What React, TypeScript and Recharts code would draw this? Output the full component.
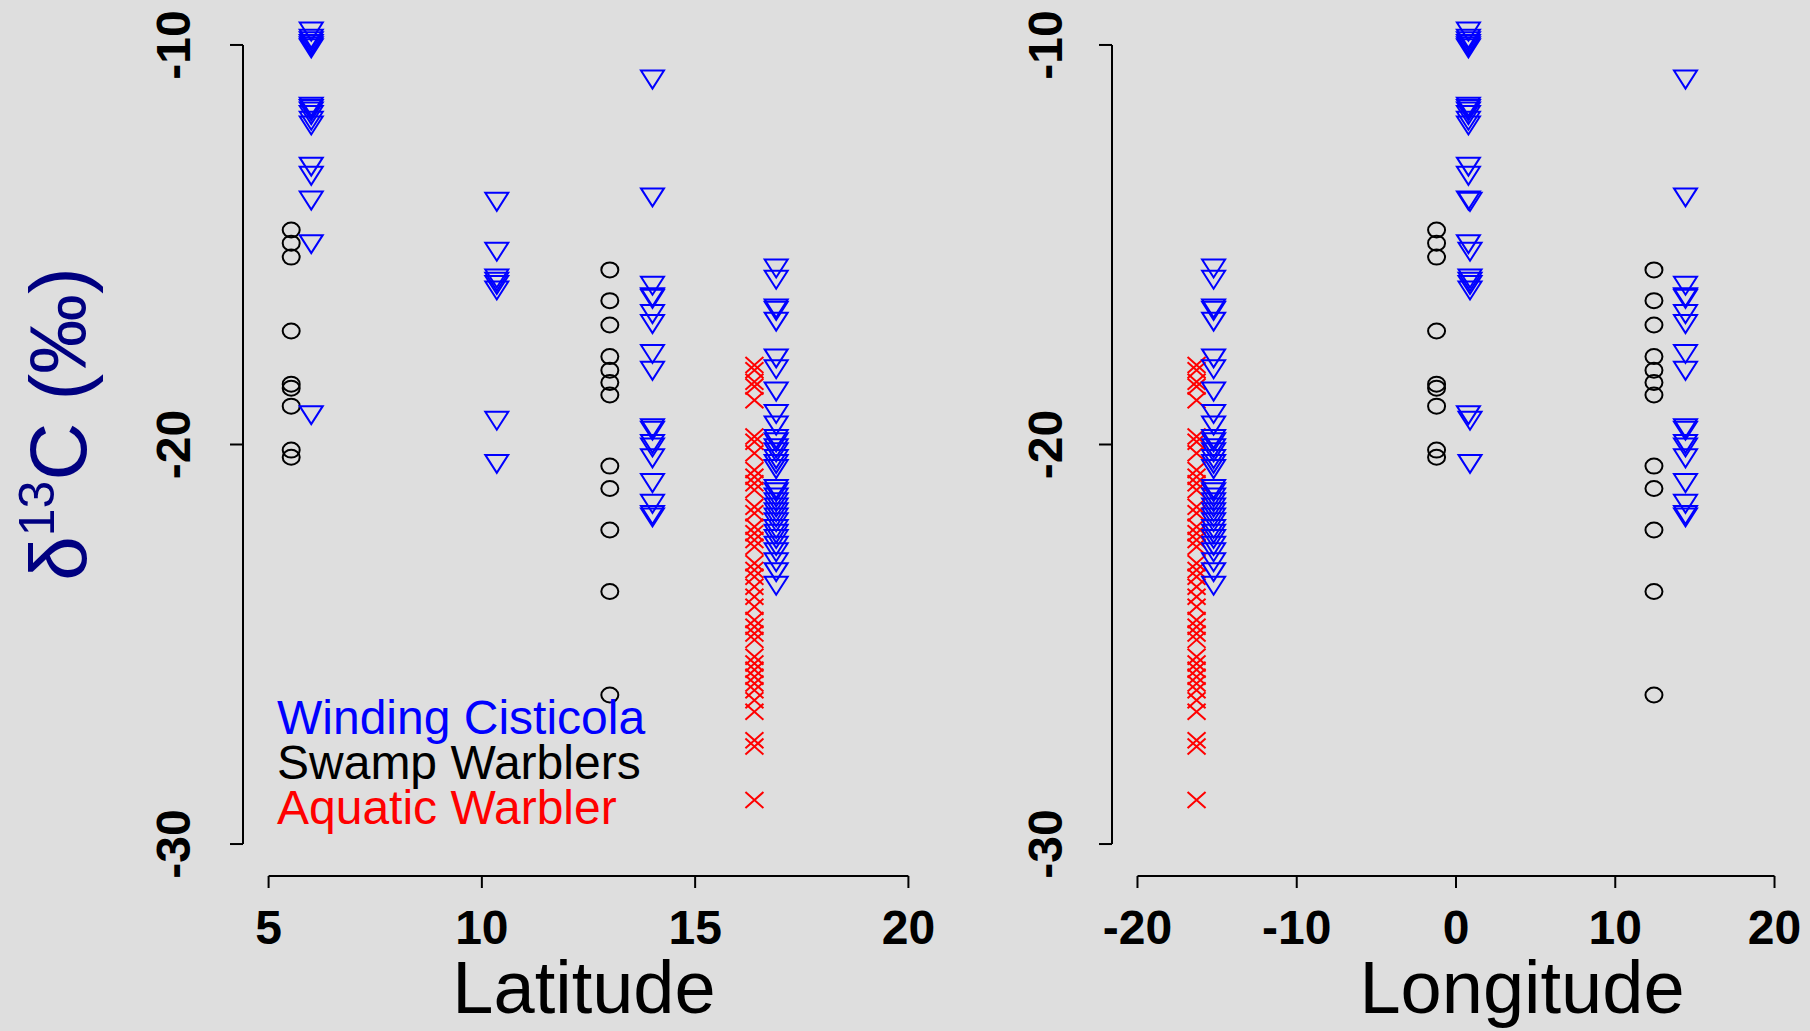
import { ScatterChart, Scatter, XAxis, YAxis, ReferenceLine } from "recharts";

// sites of each species: latitude, longitude, and the d13C values measured there
const cisticolaSiteLat = [6.0, 10.35, 14.0, 16.9];
const cisticolaSiteLon = [0.78, 0.88, 14.41, -15.22];
const cisticolaD13C = [
  [-9.59, -9.77, -9.83, -9.9, -9.96, -10.01, -11.47, -11.53, -11.59, -11.68, -11.82, -11.94, -12.97, -13.2, -13.82, -14.91, -19.19],
  [-13.85, -15.1, -15.77, -15.85, -15.93, -16.07, -19.33, -20.41],
  [-10.79, -13.74, -15.95, -16.24, -16.28, -16.66, -16.91, -17.66, -18.08, -19.52, -19.58, -19.91, -20.0, -20.27, -20.89, -21.41, -21.69, -21.75],
  [-15.52, -15.8, -16.52, -16.58, -16.85, -17.77, -18.04, -18.6, -19.16, -19.45, -19.79, -19.87, -20.02, -20.12, -20.29, -20.41, -20.54, -21.04, -21.12, -21.25, -21.37, -21.5, -21.62, -21.75, -21.87, -22.04, -22.16, -22.29, -22.46, -22.62, -22.87, -23.12, -23.46],
];

const swampSiteLat = [5.53, 13.0];
const swampSiteLon = [-1.22, 12.43];
const swampD13C = [
  [-14.63, -14.96, -15.31, -17.16, -18.49, -18.59, -19.04, -20.14, -20.32],
  [-15.63, -16.4, -17.01, -17.8, -18.14, -18.45, -18.76, -20.54, -21.1, -22.14, -23.68, -26.27],
];

const aquaticSiteLat = [16.39];
const aquaticSiteLon = [-16.29];
const aquaticD13C = [
  [-18.01, -18.14, -18.43, -18.55, -18.89, -19.8, -19.93, -20.22, -20.64, -20.81, -20.97, -21.14, -21.56, -21.72, -22.06, -22.22, -22.39, -22.56, -22.97, -23.14, -23.31, -23.56, -23.81, -24.06, -24.39, -24.56, -24.73, -24.89, -25.31, -25.48, -25.64, -25.81, -25.98, -26.15, -26.4, -26.69, -27.4, -27.56, -28.9],
];

const latTicks = [5, 10, 15, 20];
const lonTicks = [-20, -10, 0, 10, 20];
const d13cTicks = [-30, -20, -10];

const legendLabels = ["Winding Cisticola", "Swamp Warblers", "Aquatic Warbler"];
const legendColors = ["#0000ff", "#000000", "#ff0000"];

const toRows = (lat: number[], lon: number[], vals: number[][]) =>
  vals.flatMap((site, i) => site.map((v) => ({ lat: lat[i], lon: lon[i], d13c: v })));

const cisticola = toRows(cisticolaSiteLat, cisticolaSiteLon, cisticolaD13C);
const swamp = toRows(swampSiteLat, swampSiteLon, swampD13C);
const aquatic = toRows(aquaticSiteLat, aquaticSiteLon, aquaticD13C);

const FONT = "'Liberation Sans', Arial, sans-serif";
const BG = "#dedede";

const latDomain = [4.4, 20.6];
const lonDomain = [-21.6, 21.6];

const DownTriangle = (p: any) => {
  const { cx, cy } = p;
  return (
    <polygon
      points={`${cx - 11.5},${cy - 6} ${cx + 11.5},${cy - 6} ${cx},${cy + 12}`}
      fill="none"
      stroke="#0000ff"
      strokeWidth={2}
    />
  );
};

const OpenCircle = (p: any) => (
  <ellipse cx={p.cx} cy={p.cy} rx={8.5} ry={7.5} fill="none" stroke="#000" strokeWidth={2} />
);

const Cross = (p: any) => {
  const { cx, cy } = p;
  return (
    <path
      d={`M${cx - 9},${cy - 8}L${cx + 9},${cy + 8}M${cx - 9},${cy + 8}L${cx + 9},${cy - 8}`}
      stroke="#ff0000"
      strokeWidth={2}
      fill="none"
    />
  );
};

const XTick = (p: any) => (
  <text x={p.x} y={944} textAnchor="middle" fontSize={48} fontWeight="bold" fontFamily={FONT} fill="#000">
    {String(p.payload.value)}
  </text>
);

const makeYTick = (bx: number) => (p: any) => (
  <text
    transform={`translate(${bx},${p.y}) rotate(-90)`}
    textAnchor="middle"
    fontSize={48}
    fontWeight="bold"
    fontFamily={FONT}
    fill="#000"
  >
    {String(p.payload.value)}
  </text>
);

function Panel({ xKey, domain, ticks, left, width, yAxisW, plotW, yTickX }: any) {
  return (
    <div style={{ position: "absolute", left, top: 0 }}>
      <ScatterChart width={width} height={1031} margin={{ top: 13, right: width - yAxisW - plotW, left: 0, bottom: 0 }}>
        <XAxis
          type="number"
          dataKey={xKey}
          domain={domain}
          ticks={ticks}
          allowDataOverflow
          axisLine={false}
          tickLine={{ stroke: "#000", strokeWidth: 2 }}
          tickSize={12}
          tick={<XTick />}
          height={155}
          interval={0}
        />
        <YAxis
          type="number"
          dataKey="d13c"
          domain={[-30.8, -9.2]}
          ticks={d13cTicks}
          allowDataOverflow
          axisLine={false}
          tickLine={{ stroke: "#000", strokeWidth: 2 }}
          tickSize={13}
          tick={makeYTick(yTickX)}
          width={yAxisW}
          interval={0}
        />
        <ReferenceLine
          segment={[{ x: domain[0], y: -10 }, { x: domain[0], y: -30 }]}
          stroke="#000"
          strokeWidth={2}
          ifOverflow="visible"
        />
        <ReferenceLine
          segment={[{ x: ticks[0], y: -30.8 }, { x: ticks[ticks.length - 1], y: -30.8 }]}
          stroke="#000"
          strokeWidth={2}
          ifOverflow="visible"
        />
        <Scatter data={swamp} shape={OpenCircle} isAnimationActive={false} />
        <Scatter data={aquatic} shape={Cross} isAnimationActive={false} />
        <Scatter data={cisticola} shape={DownTriangle} isAnimationActive={false} />
      </ScatterChart>
    </div>
  );
}

export default function App() {
  return (
    <div style={{ position: "absolute", left: 0, top: 0, width: 1810, height: 1031, background: BG, overflow: "hidden" }}>
      <Panel xKey="lat" domain={latDomain} ticks={latTicks} left={0} width={960} yAxisW={243} plotW={691} yTickX={190} />
      <Panel xKey="lon" domain={lonDomain} ticks={lonTicks} left={880} width={930} yAxisW={232} plotW={688} yTickX={182} />
      <svg width={1810} height={1031} style={{ position: "absolute", left: 0, top: 0, pointerEvents: "none" }}>
        <text
          transform="translate(86,424) rotate(-90)"
          textAnchor="middle"
          fontSize={80}
          fontFamily={FONT}
          fill="#000080"
        >
          δ<tspan fontSize={50} dy={-32}>13</tspan>
          <tspan dy={32}>C (‰)</tspan>
        </text>
        {legendLabels.map((t, i) => (
          <text key={t} x={277} y={734 + i * 45} fontSize={48} fontFamily={FONT} fill={legendColors[i]}>
            {t}
          </text>
        ))}
        <text x={584} y={1013} textAnchor="middle" fontSize={74} fontFamily={FONT} fill="#000">
          Latitude
        </text>
        <text x={1522} y={1013} textAnchor="middle" fontSize={74} fontFamily={FONT} fill="#000">
          Longitude
        </text>
      </svg>
    </div>
  );
}
